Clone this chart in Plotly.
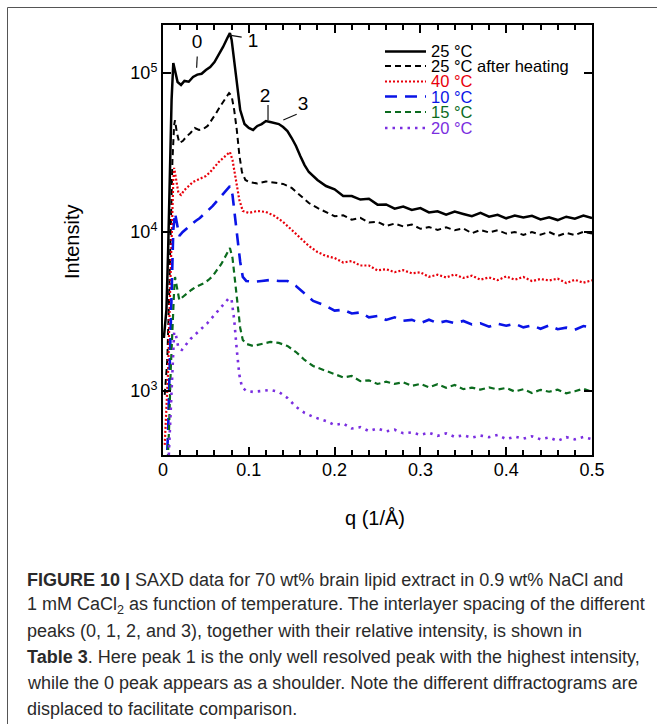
import numpy as np
import plotly.graph_objects as go

# ---------------- data (q in 1/Å, intensity as log10 values) ----------------
q_tail = [0.20, 0.21, 0.22, 0.23, 0.24, 0.25, 0.26, 0.27, 0.28, 0.29, 0.30,
          0.31, 0.32, 0.33, 0.34, 0.35, 0.36, 0.37, 0.38, 0.39, 0.40,
          0.41, 0.42, 0.43, 0.44, 0.45, 0.46, 0.47, 0.48, 0.49, 0.50]

# 25 °C
q_25 = [0.001, 0.004, 0.006, 0.008, 0.010, 0.012, 0.014, 0.017, 0.021, 0.025, 0.030, 0.035,
        0.040, 0.045, 0.050, 0.055, 0.060, 0.065, 0.070, 0.075, 0.078, 0.080, 0.083, 0.087,
        0.090, 0.095, 0.100, 0.105, 0.110, 0.115, 0.120, 0.125, 0.130, 0.135, 0.140, 0.145,
        0.150, 0.155, 0.160, 0.165, 0.170, 0.180, 0.190]
logI_25 = [3.333, 3.510, 3.887, 4.390, 4.830, 5.063, 5.019, 4.943, 4.925, 4.950, 4.945, 4.975,
           4.990, 4.995, 5.019, 5.038, 5.069, 5.113, 5.164, 5.220, 5.252, 5.208, 5.082, 4.893,
           4.767, 4.679, 4.654, 4.642, 4.667, 4.679, 4.698, 4.692, 4.686, 4.679, 4.660, 4.635,
           4.591, 4.541, 4.478, 4.421, 4.377, 4.327, 4.289]
logI_25_tail = [4.268, 4.227, 4.226, 4.204, 4.209, 4.172, 4.173, 4.147, 4.160, 4.139, 4.150,
                4.123, 4.130, 4.109, 4.128, 4.113, 4.099, 4.120, 4.096, 4.108, 4.086,
                4.104, 4.091, 4.102, 4.079, 4.093, 4.075, 4.096, 4.084, 4.103, 4.087]

# 25 °C after heating
q_25h = [0.002, 0.005, 0.007, 0.009, 0.011, 0.013, 0.014, 0.016, 0.019, 0.023, 0.027, 0.032,
         0.037, 0.042, 0.047, 0.052, 0.057, 0.062, 0.067, 0.072, 0.077, 0.080, 0.083, 0.086,
         0.089, 0.092, 0.096, 0.100, 0.110, 0.120, 0.130, 0.140, 0.150, 0.160, 0.170, 0.180, 0.190]
logI_25h = [2.975, 3.195, 3.572, 4.076, 4.453, 4.673, 4.704, 4.629, 4.560, 4.572, 4.598, 4.623,
            4.654, 4.642, 4.648, 4.667, 4.704, 4.748, 4.793, 4.837, 4.874, 4.855, 4.767, 4.642,
            4.484, 4.377, 4.327, 4.315, 4.305, 4.318, 4.308, 4.302, 4.277, 4.227, 4.182, 4.151, 4.126]
logI_25h_tail = [4.099, 4.105, 4.077, 4.089, 4.059, 4.064, 4.038, 4.053, 4.035, 4.047, 4.020,
                 4.031, 4.013, 4.029, 4.011, 4.023, 3.992, 4.013, 3.997, 4.011, 3.990,
                 4.000, 3.982, 3.999, 3.983, 4.000, 3.975, 3.994, 3.980, 4.001, 3.990]

# 40 °C
q_40 = [0.002, 0.004, 0.006, 0.008, 0.010, 0.012, 0.013, 0.015, 0.018, 0.021, 0.025, 0.030,
        0.035, 0.040, 0.045, 0.050, 0.055, 0.060, 0.065, 0.070, 0.075, 0.078, 0.081, 0.085,
        0.089, 0.093, 0.100, 0.110, 0.120, 0.130, 0.140, 0.150, 0.160, 0.170, 0.180, 0.190]
logI_40 = [2.661, 2.881, 3.132, 3.572, 4.013, 4.327, 4.403, 4.340, 4.245, 4.233, 4.264, 4.289,
           4.315, 4.327, 4.340, 4.352, 4.377, 4.409, 4.440, 4.465, 4.491, 4.503, 4.453, 4.327,
           4.201, 4.132, 4.120, 4.132, 4.126, 4.101, 4.063, 4.013, 3.962, 3.912, 3.874, 3.849]
logI_40_tail = [3.836, 3.808, 3.817, 3.789, 3.789, 3.758, 3.766, 3.747, 3.760, 3.740, 3.746,
                3.718, 3.731, 3.714, 3.733, 3.711, 3.725, 3.700, 3.714, 3.697, 3.720,
                3.700, 3.717, 3.691, 3.704, 3.695, 3.706, 3.679, 3.699, 3.681, 3.696]

# 10 °C
q_10 = [0.004, 0.006, 0.008, 0.010, 0.012, 0.014, 0.016, 0.019, 0.023, 0.028, 0.033, 0.038,
        0.043, 0.048, 0.053, 0.058, 0.063, 0.068, 0.073, 0.078, 0.081, 0.084, 0.087, 0.090,
        0.093, 0.097, 0.105, 0.115, 0.125, 0.135, 0.145, 0.155, 0.165, 0.175, 0.190]
logI_10 = [2.503, 2.755, 3.195, 3.635, 4.013, 4.120, 4.050, 3.975, 4.000, 4.025, 4.050, 4.069,
           4.088, 4.113, 4.138, 4.164, 4.195, 4.227, 4.258, 4.289, 4.233, 4.107, 3.950, 3.811,
           3.717, 3.692, 3.686, 3.692, 3.698, 3.692, 3.692, 3.660, 3.610, 3.566, 3.535]
logI_10_tail = [3.505, 3.511, 3.487, 3.494, 3.463, 3.471, 3.447, 3.463, 3.441, 3.447, 3.427,
                3.448, 3.427, 3.440, 3.426, 3.440, 3.418, 3.426, 3.404, 3.423, 3.410,
                3.423, 3.400, 3.412, 3.391, 3.412, 3.388, 3.398, 3.385, 3.408, 3.399]

# 15 °C
q_15 = [0.005, 0.007, 0.009, 0.011, 0.013, 0.014, 0.016, 0.019, 0.023, 0.028, 0.033, 0.038,
        0.043, 0.048, 0.053, 0.058, 0.063, 0.068, 0.073, 0.078, 0.081, 0.084, 0.087, 0.090,
        0.093, 0.097, 0.105, 0.115, 0.125, 0.135, 0.145, 0.155, 0.165, 0.175, 0.190]
logI_15 = [2.503, 2.755, 3.132, 3.447, 3.635, 3.717, 3.654, 3.572, 3.591, 3.616, 3.635, 3.654,
           3.667, 3.679, 3.698, 3.723, 3.761, 3.799, 3.849, 3.899, 3.837, 3.698, 3.541, 3.396,
           3.321, 3.296, 3.283, 3.296, 3.308, 3.302, 3.283, 3.245, 3.195, 3.157, 3.126]
logI_15_tail = [3.110, 3.085, 3.094, 3.062, 3.067, 3.044, 3.058, 3.044, 3.055, 3.032, 3.044,
                3.023, 3.042, 3.020, 3.038, 3.011, 3.021, 3.008, 3.022, 3.009, 3.019,
                2.996, 3.011, 2.987, 3.007, 2.995, 3.008, 2.985, 2.998, 3.014, 2.994]

# 20 °C
q_20 = [0.006, 0.008, 0.010, 0.012, 0.013, 0.015, 0.018, 0.022, 0.027, 0.032, 0.037, 0.042,
        0.047, 0.052, 0.057, 0.062, 0.067, 0.072, 0.077, 0.080, 0.083, 0.086, 0.089, 0.092,
        0.097, 0.105, 0.115, 0.125, 0.135, 0.145, 0.155, 0.165, 0.175, 0.190]
logI_20 = [2.503, 2.755, 3.069, 3.289, 3.371, 3.352, 3.271, 3.258, 3.296, 3.327, 3.352, 3.377,
           3.403, 3.428, 3.459, 3.491, 3.522, 3.554, 3.585, 3.572, 3.447, 3.258, 3.101, 3.025,
           3.000, 2.994, 3.000, 3.006, 2.994, 2.956, 2.900, 2.862, 2.837, 2.811]
logI_20_tail = [2.786, 2.795, 2.764, 2.772, 2.748, 2.764, 2.745, 2.756, 2.734, 2.739, 2.724,
                2.737, 2.718, 2.733, 2.711, 2.721, 2.706, 2.719, 2.709, 2.723, 2.697,
                2.712, 2.700, 2.715, 2.696, 2.707, 2.686, 2.709, 2.695, 2.710, 2.697]

series_names = ["25 °C", "25 °C after heating", "40 °C", "10 °C", "15 °C", "20 °C"]

# peak labels
peak_labels = ["0", "1", "2", "3"]
peak_label_q = [0.0396, 0.1049, 0.1189, 0.1632]
peak_label_I = [1.55e5, 1.57e5, 7.06e4, 6.3e4]
peak_line_q = [[0.0399, 0.0392], [0.0773, 0.0917], [0.1224, 0.1224], [0.1558, 0.1402]]
peak_line_I = [[1.27e5, 1.08e5], [1.73e5, 1.68e5], [6.3e4, 5.06e4], [5.5e4, 5.06e4]]

x_tick_vals = [0, 0.1, 0.2, 0.3, 0.4, 0.5]
x_tick_text = ["0", "0.1", "0.2", "0.3", "0.4", "0.5"]
y_tick_vals = [1e3, 1e4, 1e5]
y_tick_text = ["10<sup>3</sup>", "10<sup>4</sup>", "10<sup>5</sup>"]

caption_lines = [
    "<b>FIGURE 10 |</b> SAXD data for 70 wt% brain lipid extract in 0.9 wt% NaCl and",
    "1 mM CaCl<sub>2</sub> as function of temperature. The interlayer spacing of the different",
    "peaks (0, 1, 2, and 3), together with their relative intensity, is shown in",
    "<b>Table 3</b>. Here peak 1 is the only well resolved peak with the highest intensity,",
    "while the 0 peak appears as a shoulder. Note the different diffractograms are",
    "displaced to facilitate comparison.",
]

# ---------------- styles ----------------
FONT = "Liberation Sans, Arial, Helvetica, sans-serif"
styles = [
    dict(color="#000000", dash="solid", width=2.5),
    dict(color="#000000", dash="6px,4px", width=2.0),
    dict(color="#e8000b", dash="2px,2px", width=2.2),
    dict(color="#0a14e6", dash="12px,8px", width=2.6),
    dict(color="#0b6b1e", dash="6px,4px", width=2.2),
    dict(color="#7a2ee0", dash="2.5px,5px", width=2.6),
]

series = [
    (q_25, logI_25, logI_25_tail),
    (q_25h, logI_25h, logI_25h_tail),
    (q_40, logI_40, logI_40_tail),
    (q_10, logI_10, logI_10_tail),
    (q_15, logI_15, logI_15_tail),
    (q_20, logI_20, logI_20_tail),
]

W, H = 657, 724
L_M, R_M, T_M, B_M = 163, 65, 25, 269
pw, ph = W - L_M - R_M, H - T_M - B_M


def px(xp):
    return (xp - L_M) / pw


def py(yp):
    return (H - B_M - yp) / ph


fig = go.Figure()
for (qh, lh, lt), st, nm in zip(series, styles, series_names):
    qq = list(qh) + list(q_tail)
    ii = 10 ** np.array(list(lh) + list(lt))
    fig.add_trace(go.Scatter(x=qq, y=ii, mode="lines", name=nm, showlegend=False,
                             line=dict(color=st["color"], dash=st["dash"], width=st["width"])))

# peak connector lines and labels
for lq, li in zip(peak_line_q, peak_line_I):
    fig.add_trace(go.Scatter(x=lq, y=li, mode="lines", showlegend=False,
                             line=dict(color="#111111", width=1.2)))
fig.add_trace(go.Scatter(x=peak_label_q, y=peak_label_I, mode="text", text=peak_labels,
                         showlegend=False, textfont=dict(family=FONT, size=19, color="#000000")))

# manual legend
leg_rows = [51.5, 66, 81.5, 96.5, 112, 128]
shapes = []
annotations = []
for nm, st, ry in zip(series_names, styles, leg_rows):
    shapes.append(dict(type="line", xref="paper", yref="paper",
                       x0=px(385), x1=px(426), y0=py(ry), y1=py(ry),
                       line=dict(color=st["color"], dash=st["dash"], width=st["width"])))
    annotations.append(dict(xref="paper", yref="paper", x=px(429), y=py(ry),
                            xanchor="left", yanchor="middle", showarrow=False, text=nm,
                            font=dict(family=FONT, size=16.5, color=st["color"])))

# axis titles
annotations.append(dict(xref="paper", yref="paper", x=px(72), y=py(242), text="Intensity",
                        textangle=-90, showarrow=False, xanchor="center", yanchor="middle",
                        font=dict(family=FONT, size=20, color="#000000")))
annotations.append(dict(xref="paper", yref="paper", x=px(375), y=py(518), text="q (1/Å)",
                        showarrow=False, xanchor="center", yanchor="middle",
                        font=dict(family=FONT, size=20, color="#000000")))

# caption
cap_y = [579.8, 605.8, 631.4, 657.4, 683.3, 708.9]
for txt, cy in zip(caption_lines, cap_y):
    annotations.append(dict(xref="paper", yref="paper", x=px(25), y=py(cy), text=txt,
                            showarrow=False, xanchor="left", yanchor="middle",
                            font=dict(family=FONT, size=18, color="#2a2a2a")))

# outer frame (top and left edges visible)
shapes.append(dict(type="rect", xref="paper", yref="paper",
                   x0=px(7.5), x1=px(720), y0=py(7.5), y1=py(800),
                   line=dict(color="#555555", width=1), layer="below"))

fig.update_layout(
    width=W, height=H,
    margin=dict(l=L_M, r=R_M, t=T_M, b=B_M, pad=0),
    paper_bgcolor="white", plot_bgcolor="white",
    showlegend=False,
    shapes=shapes, annotations=annotations,
    font=dict(family=FONT, color="#000000"),
)
fig.update_xaxes(range=[0, 0.5], showline=True, linecolor="black", linewidth=2, mirror="ticks",
                 ticks="inside", ticklen=8, tickwidth=1.5, tickcolor="black",
                 tickvals=x_tick_vals, ticktext=x_tick_text, showgrid=False, zeroline=False,
                 tickfont=dict(family=FONT, size=18, color="black"), ticklabelstandoff=-3,
                 minor=dict(dtick=0.02, ticks="inside", ticklen=5, tickwidth=1.5, tickcolor="black"))
fig.update_yaxes(type="log", range=[2.597, 5.302], showline=True, linecolor="black", linewidth=2,
                 mirror="ticks", ticks="inside", ticklen=8, tickwidth=1.5, tickcolor="black",
                 tickvals=y_tick_vals, ticktext=y_tick_text, showgrid=False, zeroline=False,
                 tickfont=dict(family=FONT, size=18, color="black"))

fig.write_html("out.html", config={"displayModeBar": False},
               post_script="document.body.style.margin='0';")
